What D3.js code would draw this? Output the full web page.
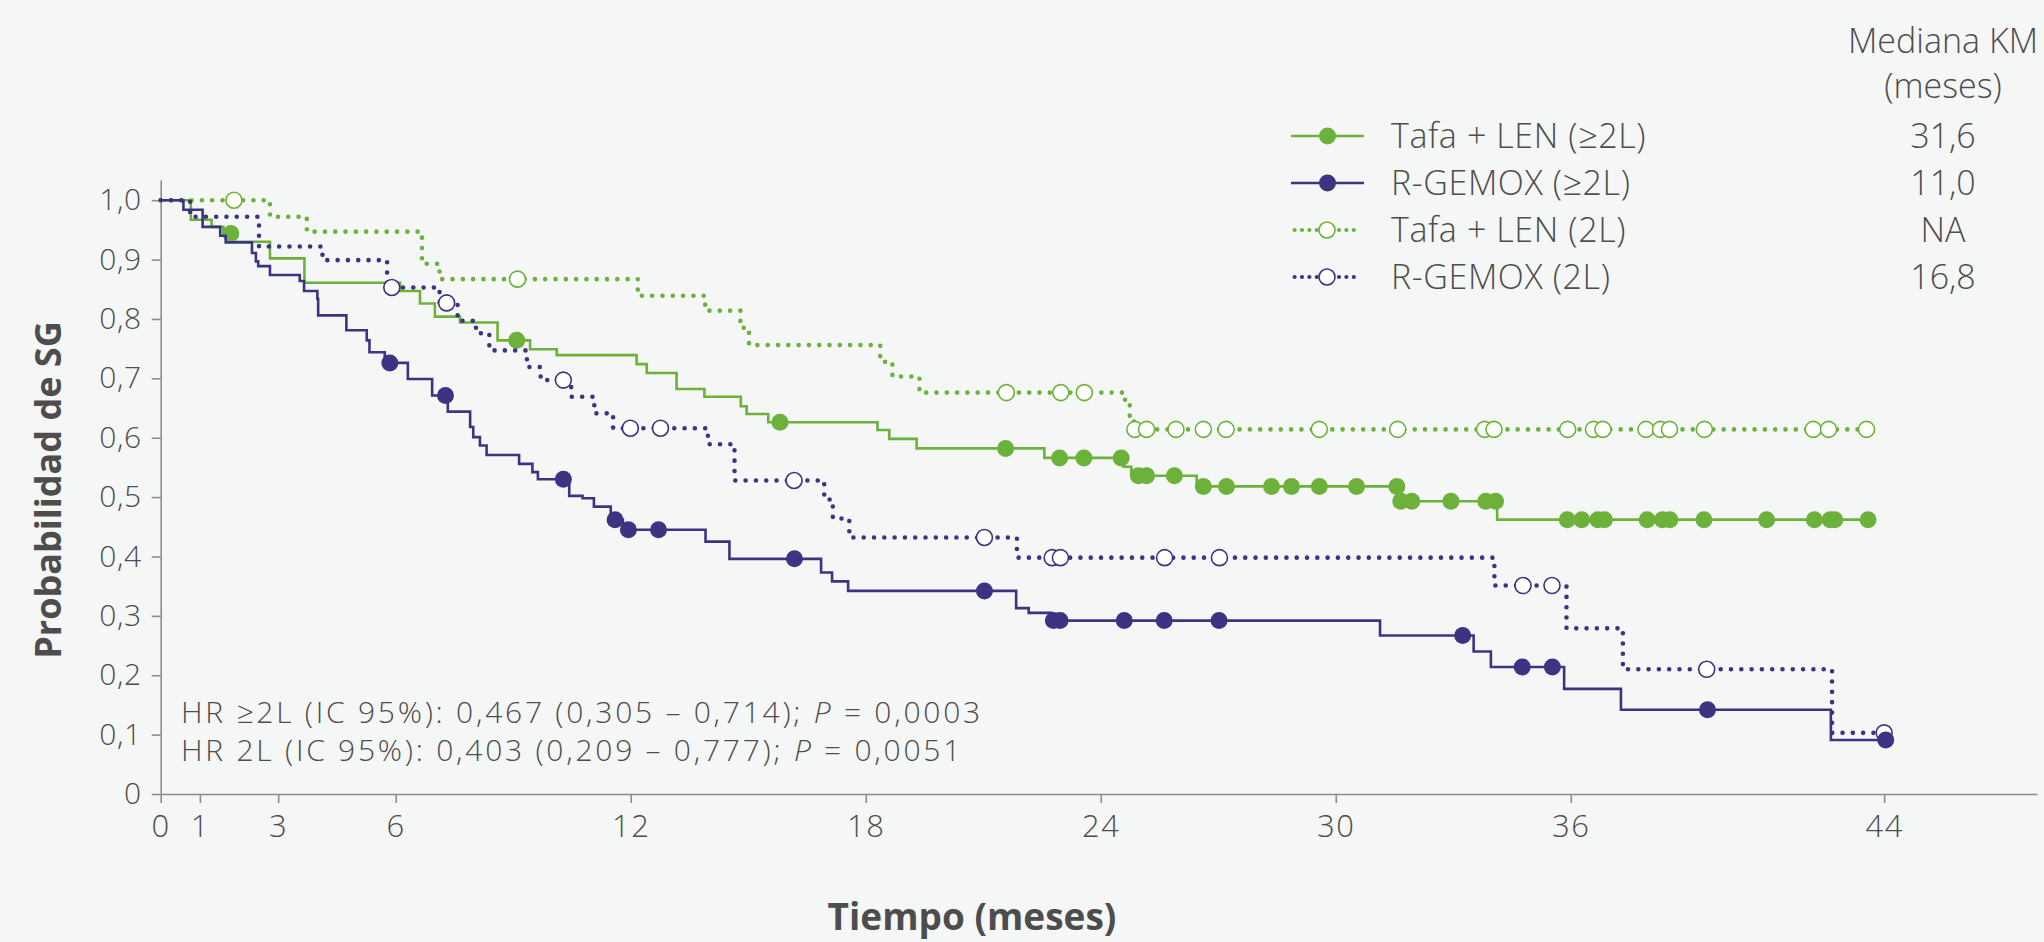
<!DOCTYPE html>
<html>
<head>
<meta charset="utf-8">
<script src="https://cdnjs.cloudflare.com/ajax/libs/d3/7.8.5/d3.min.js"></script>
<style>
  html, body { margin: 0; padding: 0; background: #f5f7f6; }
  svg { display: block; }
  text { font-family: "Open Sans", "Lato", sans-serif; fill: #4d4d4d; }
</style>
</head>
<body>
<svg id="chart"></svg>
<script>
// Tafa + LEN (>=2L): step times (months) and KM survival after each step
const tafaAllTimes = [0, 0.77, 1.30, 1.60, 1.82, 2.79, 3.67, 6.11, 6.62, 7.00, 7.64, 8.60, 9.43, 10.11, 12.15, 12.41, 13.17, 13.88, 14.81, 14.96, 15.51, 18.30, 18.60, 19.30, 22.56, 24.58, 24.78, 26.45, 31.60, 34.12];
const tafaAllSurv = [1.0, 0.967, 0.955, 0.944, 0.930, 0.902, 0.861, 0.847, 0.826, 0.804, 0.794, 0.764, 0.749, 0.739, 0.724, 0.709, 0.682, 0.669, 0.653, 0.640, 0.626, 0.613, 0.598, 0.582, 0.566, 0.551, 0.536, 0.518, 0.493, 0.462];
const tafaAllCensored = [1.79, 9.09, 15.81, 21.57, 22.95, 23.57, 24.52, 24.96, 25.17, 25.88, 26.62, 27.21, 28.36, 28.87, 29.58, 30.53, 31.56, 31.66, 31.94, 32.94, 33.83, 34.08, 35.91, 36.28, 36.69, 36.86, 37.95, 38.34, 38.53, 39.40, 41.00, 42.22, 42.62, 42.74, 43.59];

// R-GEMOX (>=2L)
const gemoxAllTimes = [0, 0.58, 1.07, 1.52, 1.66, 2.33, 2.43, 2.49, 2.79, 3.55, 3.66, 4.00, 4.02, 4.74, 5.26, 5.33, 5.72, 6.31, 6.93, 7.33, 7.90, 7.98, 8.15, 8.32, 9.15, 9.49, 9.63, 10.43, 10.77, 11.06, 11.49, 11.80, 13.91, 14.52, 16.86, 17.14, 17.55, 21.84, 22.16, 22.74, 31.13, 33.52, 33.96, 35.83, 37.28, 42.64];
const gemoxAllSurv = [1.0, 0.984, 0.955, 0.940, 0.929, 0.911, 0.897, 0.889, 0.874, 0.864, 0.847, 0.834, 0.806, 0.781, 0.764, 0.744, 0.726, 0.699, 0.671, 0.644, 0.618, 0.601, 0.587, 0.571, 0.556, 0.542, 0.530, 0.502, 0.498, 0.484, 0.462, 0.445, 0.425, 0.396, 0.373, 0.358, 0.342, 0.313, 0.305, 0.292, 0.267, 0.240, 0.214, 0.177, 0.142, 0.091];
const gemoxAllCensored = [5.85, 7.27, 10.28, 11.60, 11.94, 12.71, 16.18, 21.03, 22.79, 22.96, 24.60, 25.62, 27.02, 33.24, 34.76, 35.53, 39.49, 44.04];

// Tafa + LEN (2L)
const tafa2Times = [0, 2.79, 3.73, 6.67, 7.12, 12.18, 13.90, 14.80, 15.02, 18.37, 18.68, 19.37, 24.62, 24.74, 24.85];
const tafa2Surv = [1.0, 0.972, 0.947, 0.893, 0.867, 0.839, 0.814, 0.785, 0.756, 0.728, 0.703, 0.676, 0.655, 0.635, 0.614];
const tafa2Censored = [1.87, 9.11, 21.59, 22.98, 23.58, 24.87, 25.17, 25.92, 26.62, 27.20, 29.58, 31.58, 33.80, 34.04, 35.92, 36.58, 36.82, 37.92, 38.29, 38.52, 39.41, 42.19, 42.58, 43.55];

// R-GEMOX (2L)
const gemox2Times = [0, 0.75, 2.51, 4.13, 5.78, 7.12, 7.58, 8.05, 8.39, 9.35, 9.70, 10.48, 11.07, 11.55, 13.97, 14.65, 16.94, 17.16, 17.58, 21.86, 34.05, 35.89, 37.33, 42.67];
const gemox2Surv = [1.0, 0.972, 0.922, 0.899, 0.853, 0.827, 0.797, 0.776, 0.747, 0.719, 0.697, 0.669, 0.641, 0.616, 0.589, 0.528, 0.496, 0.464, 0.432, 0.398, 0.351, 0.279, 0.210, 0.103];
const gemox2Censored = [5.90, 7.30, 10.28, 11.99, 12.76, 16.17, 21.03, 22.76, 22.97, 25.63, 27.03, 34.78, 35.52, 39.47, 44.00];

// legend / table
const seriesNames = ["Tafa + LEN (\u22652L)", "R-GEMOX (\u22652L)", "Tafa + LEN (2L)", "R-GEMOX (2L)"];
const medians = ["31,6", "11,0", "NA", "16,8"];

const xTicks = [0, 1, 3, 6, 12, 18, 24, 30, 36, 44];
const yTicks = [0, 0.1, 0.2, 0.3, 0.4, 0.5, 0.6, 0.7, 0.8, 0.9, 1.0];

const green = "#6cb23a";
const purple = "#3c3482";

const series = [
    { name: seriesNames[0], times: tafaAllTimes, surv: tafaAllSurv, cens: tafaAllCensored, color: green, dotted: false },
    { name: seriesNames[2], times: tafa2Times, surv: tafa2Surv, cens: tafa2Censored, color: green, dotted: true },
    { name: seriesNames[3], times: gemox2Times, surv: gemox2Surv, cens: gemox2Censored, color: purple, dotted: true },
    { name: seriesNames[1], times: gemoxAllTimes, surv: gemoxAllSurv, cens: gemoxAllCensored, color: purple, dotted: false }
];

const W = 2044, H = 942;
const svg = d3.select("#chart").attr("width", W).attr("height", H);
svg.append("rect").attr("width", W).attr("height", H).attr("fill", "#f5f7f6");

const x = d3.scaleLinear().domain([0, 47.9]).range([160.7, 2036.9]);
const y = d3.scaleLinear().domain([0, 1.034]).range([794, 180]);

// axes
const fmt = d => d === 0 ? "0" : d3.format(".1f")(d).replace(".", ",");
const yAxis = svg.append("g")
    .attr("transform", `translate(${x(0)},0)`)
    .call(d3.axisLeft(y).tickValues(yTicks).tickFormat(fmt).tickSize(9).tickSizeOuter(0).tickPadding(10));
const xAxis = svg.append("g")
    .attr("transform", `translate(0,${y(0)})`)
    .call(d3.axisBottom(x).tickValues(xTicks).tickSize(9).tickSizeOuter(0).tickPadding(12));
[xAxis, yAxis].forEach(a => {
    a.selectAll("path, line").attr("stroke", "#8c8c8c").attr("stroke-width", 1.6);
    a.selectAll("text").attr("font-weight", 300)
        .attr("fill", "#555").style("font-family", '"Open Sans", sans-serif');
});
yAxis.selectAll("text").attr("font-size", 30).attr("letter-spacing", 0.6);
xAxis.selectAll("text").attr("font-size", 31).attr("letter-spacing", 1.5);

// axis titles
svg.append("text")
    .attr("transform", `translate(61,490) rotate(-90)`)
    .attr("text-anchor", "middle")
    .attr("font-size", 36).attr("font-weight", 700).attr("fill", "#555")
    .text("Probabilidad de SG");
svg.append("text")
    .attr("x", 972).attr("y", 930)
    .attr("text-anchor", "middle")
    .attr("font-size", 37).attr("font-weight", 700).attr("fill", "#555")
    .text("Tiempo (meses)");

// KM curves
const survAt = (s, t) => {
    let v = s.surv[0];
    s.times.forEach((tt, i) => { if (tt <= t) v = s.surv[i]; });
    return v;
};
const line = d3.line().x(d => x(d[0])).y(d => y(d[1])).curve(d3.curveStepAfter);

series.forEach(s => {
    const pts = s.times.map((t, i) => [t, s.surv[i]]);
    const end = Math.max(d3.max(s.cens), d3.max(s.times));
    pts.push([end, s.surv[s.surv.length - 1]]);
    const g = svg.append("g");
    const path = g.append("path").datum(pts).attr("d", line)
        .attr("fill", "none").attr("stroke", s.color);
    if (s.dotted) {
        path.attr("stroke-width", 4.6).attr("stroke-linecap", "round").attr("stroke-dasharray", "0 10.3");
    } else {
        path.attr("stroke-width", 2.6);
    }
    g.selectAll("circle").data(s.cens).join("circle")
        .attr("cx", d => x(d)).attr("cy", d => y(survAt(s, d)))
        .attr("r", s.dotted ? 8 : 8.5)
        .attr("fill", s.dotted ? "#fff" : s.color)
        .attr("stroke", s.color).attr("stroke-width", s.dotted ? 1.6 : 0);
});

// HR text
const hr = svg.append("g").attr("font-size", 30).attr("font-weight", 300).attr("letter-spacing", 2.75);
const hr1 = hr.append("text").attr("x", 181).attr("y", 723);
hr1.append("tspan").text("HR \u22652L (IC 95%): 0,467 (0,305 \u2013 0,714); ");
hr1.append("tspan").attr("font-style", "italic").text("P");
hr1.append("tspan").text(" = 0,0003");
const hr2 = hr.append("text").attr("x", 181).attr("y", 761);
hr2.append("tspan").text("HR 2L (IC 95%): 0,403 (0,209 \u2013 0,777); ");
hr2.append("tspan").attr("font-style", "italic").text("P");
hr2.append("tspan").text(" = 0,0051");

// legend
const legendOrder = [
    { name: seriesNames[0], color: green, dotted: false, median: medians[0] },
    { name: seriesNames[1], color: purple, dotted: false, median: medians[1] },
    { name: seriesNames[2], color: green, dotted: true, median: medians[2] },
    { name: seriesNames[3], color: purple, dotted: true, median: medians[3] }
];
const lg = svg.append("g").attr("font-weight", 300);
lg.append("text").attr("x", 1943).attr("y", 53).attr("text-anchor", "middle").attr("font-size", 34).text("Mediana KM");
lg.append("text").attr("x", 1943).attr("y", 98).attr("text-anchor", "middle").attr("font-size", 34).text("(meses)");
legendOrder.forEach((d, i) => {
    const cy = 136 + i * 47;
    const row = lg.append("g");
    if (d.dotted) {
        row.append("line").attr("x1", 1294.6).attr("x2", 1359).attr("y1", cy).attr("y2", cy)
            .attr("stroke", d.color).attr("stroke-width", 4.2).attr("stroke-linecap", "round").attr("stroke-dasharray", "0 7.4");
        row.append("circle").attr("cx", 1327).attr("cy", cy).attr("r", 8)
            .attr("fill", "#fff").attr("stroke", d.color).attr("stroke-width", 1.6);
    } else {
        row.append("line").attr("x1", 1291).attr("x2", 1364).attr("y1", cy).attr("y2", cy)
            .attr("stroke", d.color).attr("stroke-width", 2.6);
        row.append("circle").attr("cx", 1327.5).attr("cy", cy).attr("r", 8.5).attr("fill", d.color);
    }
    row.append("text").attr("x", 1391).attr("y", cy + 12).attr("font-size", 34).attr("letter-spacing", 0.6).text(d.name);
    row.append("text").attr("x", 1943).attr("y", cy + 12).attr("text-anchor", "middle").attr("font-size", 34).text(d.median);
});
</script>
</body>
</html>
